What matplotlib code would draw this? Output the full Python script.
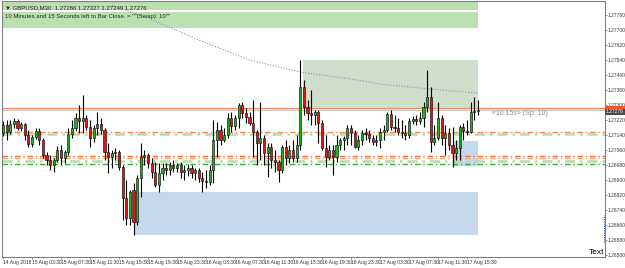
import numpy as np
import matplotlib
matplotlib.use("Agg")
import matplotlib.pyplot as plt
from matplotlib.patches import Rectangle

plt.rcParams["font.family"] = ["Liberation Sans", "DejaVu Sans"]

# GBPUSD M30 bars, 14 Aug 23:30 .. 17 Aug 17:00
opens = [1.27151, 1.27193, 1.27156, 1.27199, 1.27215, 1.27177, 1.27199, 1.27140, 1.27092, 1.27129,
         1.27161, 1.27113, 1.27033, 1.27007, 1.26980, 1.27007, 1.27060, 1.27017, 1.27049, 1.27145,
         1.27177, 1.27231, 1.27215, 1.27231, 1.27183, 1.27124, 1.27177, 1.27199, 1.27167, 1.27049,
         1.27023, 1.27044, 1.27049, 1.26969, 1.26804, 1.26697, 1.26847, 1.26676, 1.26911, 1.27023,
         1.27033, 1.26991, 1.26943, 1.26873, 1.26937, 1.26964, 1.26953, 1.26980, 1.26964, 1.26980,
         1.26943, 1.26953, 1.26964, 1.26937, 1.26953, 1.26911, 1.26895, 1.26889, 1.26953, 1.27113,
         1.27167, 1.27113, 1.27140, 1.27231, 1.27188, 1.27231, 1.27300, 1.27257, 1.27236, 1.27204,
         1.27156, 1.27097, 1.27124, 1.27044, 1.27076, 1.27007, 1.26996, 1.26953, 1.27076, 1.27017,
         1.27060, 1.27017, 1.27087, 1.27396, 1.27289, 1.27257, 1.27247, 1.27263, 1.27204, 1.27071,
         1.27023, 1.27060, 1.27023, 1.27087, 1.27113, 1.27124, 1.27177, 1.27151, 1.27076, 1.27113,
         1.27151, 1.27145, 1.27124, 1.27103, 1.27113, 1.27156, 1.27167, 1.27252, 1.27183, 1.27177,
         1.27156, 1.27151, 1.27140, 1.27215, 1.27225, 1.27215, 1.27231, 1.27289, 1.27343, 1.27103,
         1.27124, 1.27231, 1.27124, 1.27151, 1.27087, 1.27044, 1.27071, 1.27183, 1.27161, 1.27156,
         1.27263, 1.27266]
highs = [1.27215, 1.27220, 1.27220, 1.27231, 1.27225, 1.27209, 1.27204, 1.27167, 1.27140, 1.27177,
         1.27177, 1.27124, 1.27049, 1.27033, 1.27017, 1.27081, 1.27087, 1.27060, 1.27177, 1.27220,
         1.27257, 1.27300, 1.27353, 1.27247, 1.27220, 1.27193, 1.27263, 1.27231, 1.27177, 1.27097,
         1.27060, 1.27071, 1.27060, 1.26980, 1.26900, 1.26847, 1.26884, 1.26927, 1.27097, 1.27060,
         1.27044, 1.27017, 1.26996, 1.26991, 1.26991, 1.26991, 1.26996, 1.27007, 1.26991, 1.26996,
         1.26980, 1.26985, 1.26980, 1.26964, 1.26964, 1.26943, 1.26953, 1.26980, 1.27220, 1.27209,
         1.27193, 1.27177, 1.27257, 1.27263, 1.27247, 1.27311, 1.27316, 1.27284, 1.27263, 1.27327,
         1.27167, 1.27316, 1.27140, 1.27097, 1.27097, 1.27060, 1.27007, 1.27087, 1.27113, 1.27087,
         1.27113, 1.27140, 1.27540, 1.27433, 1.27327, 1.27380, 1.27273, 1.27273, 1.27220, 1.27140,
         1.27087, 1.27087, 1.27140, 1.27124, 1.27135, 1.27193, 1.27193, 1.27167, 1.27140, 1.27167,
         1.27177, 1.27167, 1.27140, 1.27140, 1.27177, 1.27193, 1.27263, 1.27273, 1.27247, 1.27231,
         1.27220, 1.27193, 1.27231, 1.27241, 1.27247, 1.27263, 1.27316, 1.27487, 1.27396, 1.27193,
         1.27316, 1.27247, 1.27193, 1.27177, 1.27183, 1.27113, 1.27193, 1.27204, 1.27220, 1.27316,
         1.27343, 1.27327]
lows = [1.27135, 1.27113, 1.27145, 1.27177, 1.27167, 1.27161, 1.27113, 1.27076, 1.27076, 1.27119,
        1.27087, 1.27017, 1.26980, 1.26953, 1.26943, 1.26996, 1.26980, 1.26991, 1.27033, 1.27124,
        1.27161, 1.27151, 1.27151, 1.27167, 1.27076, 1.27103, 1.27140, 1.27145, 1.27007, 1.26937,
        1.26964, 1.27007, 1.26953, 1.26687, 1.26660, 1.26660, 1.26607, 1.26660, 1.26809, 1.26980,
        1.26964, 1.26911, 1.26863, 1.26836, 1.26900, 1.26927, 1.26927, 1.26943, 1.26943, 1.26911,
        1.26900, 1.26921, 1.26911, 1.26900, 1.26889, 1.26836, 1.26857, 1.26873, 1.26884, 1.27023,
        1.27087, 1.27103, 1.27124, 1.27156, 1.27167, 1.27177, 1.27231, 1.27204, 1.27193, 1.27023,
        1.26980, 1.27007, 1.26980, 1.26916, 1.26964, 1.26943, 1.26889, 1.26937, 1.26980, 1.26991,
        1.26996, 1.26996, 1.27060, 1.27247, 1.27220, 1.27193, 1.27193, 1.27097, 1.27060, 1.26969,
        1.27007, 1.26927, 1.26996, 1.27060, 1.27060, 1.27087, 1.27087, 1.27071, 1.27060, 1.27087,
        1.27113, 1.27103, 1.27087, 1.27081, 1.27071, 1.27113, 1.27156, 1.27167, 1.27156, 1.27140,
        1.27124, 1.27113, 1.27124, 1.27199, 1.27193, 1.27199, 1.27183, 1.27263, 1.27049, 1.27087,
        1.27113, 1.27087, 1.27033, 1.27060, 1.26969, 1.27007, 1.27007, 1.27113, 1.27140, 1.27151,
        1.27220, 1.27249]
closes = [1.27193, 1.27156, 1.27199, 1.27215, 1.27177, 1.27199, 1.27140, 1.27092, 1.27129, 1.27161,
          1.27113, 1.27033, 1.27007, 1.26980, 1.27007, 1.27060, 1.27017, 1.27049, 1.27145, 1.27177,
          1.27231, 1.27215, 1.27231, 1.27183, 1.27124, 1.27177, 1.27199, 1.27167, 1.27049, 1.27023,
          1.27044, 1.27049, 1.26969, 1.26804, 1.26697, 1.26836, 1.26676, 1.26911, 1.27023, 1.27033,
          1.26991, 1.26943, 1.26873, 1.26937, 1.26964, 1.26953, 1.26980, 1.26964, 1.26980, 1.26943,
          1.26953, 1.26964, 1.26937, 1.26953, 1.26911, 1.26895, 1.26889, 1.26953, 1.27113, 1.27167,
          1.27113, 1.27140, 1.27231, 1.27188, 1.27231, 1.27300, 1.27257, 1.27236, 1.27204, 1.27156,
          1.27097, 1.27124, 1.27044, 1.27076, 1.27007, 1.26996, 1.26953, 1.27076, 1.27017, 1.27060,
          1.27017, 1.27087, 1.27396, 1.27289, 1.27257, 1.27247, 1.27263, 1.27204, 1.27071, 1.27023,
          1.27060, 1.27023, 1.27087, 1.27113, 1.27124, 1.27177, 1.27151, 1.27076, 1.27113, 1.27151,
          1.27145, 1.27124, 1.27103, 1.27113, 1.27156, 1.27167, 1.27252, 1.27183, 1.27177, 1.27156,
          1.27151, 1.27140, 1.27215, 1.27225, 1.27215, 1.27231, 1.27289, 1.27343, 1.27103, 1.27124,
          1.27231, 1.27124, 1.27151, 1.27087, 1.27044, 1.27071, 1.27183, 1.27161, 1.27156, 1.27263,
          1.27268, 1.27276]

# dotted average line (bar index, price)
ma_bars = [30, 40, 54, 68, 82, 96, 104, 118, 131]
ma_vals = [1.27833, 1.27764, 1.27647, 1.27540, 1.27476, 1.27439, 1.27412, 1.27385, 1.27364]

# zones: (bar_start, bar_end, price_low, price_high)
top_zone = (-1, 131, 1.27711, 1.27796)
top_zone2 = (-1, 131, 1.27807, 1.27860)
supply_zone = (82.8, 131, 1.27284, 1.27540)
demand_zone = (36, 131, 1.26607, 1.26836)
small_zone = (124.4, 131, 1.26975, 1.27108)

ask_price = 1.27286
bid_price = 1.27276
levels = [1.27158, 1.27145, 1.27028, 1.27017, 1.27003, 1.26985]
level_colors = ["#f4875a", "#b2dcaa", "#f0703c", "#f6a882", "#b2dcaa", "#3aa83a"]
level_widths = [1.0, 1.8, 1.0, 1.0, 1.8, 1.0]

yticks = [1.27780 - 0.0008 * k for k in range(17)]
xtick_bars = list(range(0, 132, 8))
xtick_labels = ["14 Aug 2018", "15 Aug 03:30", "15 Aug 07:30", "15 Aug 11:30", "15 Aug 15:30",
                "15 Aug 19:30", "15 Aug 23:30", "16 Aug 03:30", "16 Aug 07:30", "16 Aug 11:30",
                "16 Aug 15:30", "16 Aug 19:30", "16 Aug 23:30", "17 Aug 03:30", "17 Aug 07:30",
                "17 Aug 11:30", "17 Aug 15:30"]

o = np.array(opens)
h = np.array(highs)
l = np.array(lows)
c = np.array(closes)
x = np.arange(len(o))

fig = plt.figure(figsize=(6.25, 2.68), dpi=100)
ax = fig.add_axes([2 / 625, 1 - 257 / 268, 603 / 625, 256 / 268])
ax.set_xlim(-0.28, 166.07)
ax.set_ylim(1.26489, 1.27855)

for (x0, x1, y0, y1), col in [(top_zone, "#bcdfb2"), (top_zone2, "#bcdfb2"),
                              (supply_zone, "#cfdfca"), (demand_zone, "#c6d8ec"),
                              (small_zone, "#c6d8ec")]:
    ax.add_patch(Rectangle((x0, y0), x1 - x0, y1 - y0, facecolor=col, edgecolor="none", zorder=0))

ax.plot(ma_bars, ma_vals, color="#7a9cc0", lw=0.8, ls=(0, (1, 1.5)), zorder=1)

ax.axhline(ask_price, color="#f08a5d", lw=0.9, zorder=1)
ax.axhline(bid_price, color="#c8c8c8", lw=0.9, zorder=1)
for lv, col, lw in zip(levels, level_colors, level_widths):
    ax.axhline(lv, color=col, lw=lw, ls=(0, (4, 2, 1, 2)), zorder=1)

up = c >= o
ax.vlines(x, l, h, color="black", lw=0.8, zorder=2)
ax.bar(x[up], (c - o)[up], bottom=o[up], width=0.6, color="#1fb21f",
       edgecolor="black", lw=0.4, zorder=3)
ax.bar(x[~up], (c - o)[~up], bottom=o[~up], width=0.6, color="#e41414",
       edgecolor="black", lw=0.4, zorder=3)

ax.yaxis.tick_right()
ax.set_yticks(yticks)
ax.set_yticklabels([f"{v:.5f}" for v in yticks], fontsize=3.5, color="#333333")
ax.set_xticks(xtick_bars)
ax.set_xticklabels(xtick_labels, fontsize=3.6, color="#333333", ha="left")
ax.tick_params(axis="both", length=1.5, width=0.5, pad=0.6, colors="#666666", labelcolor="#333333")
for s in ax.spines.values():
    s.set_color("#808080")
    s.set_linewidth(0.8)

ax.text(0.005, 0.985, "\u25bc GBPUSD,M30  1.27266 1.27327 1.27249 1.27276", transform=ax.transAxes,
        fontsize=4.3, va="top", ha="left", color="#222222")
ax.text(0.005, 0.948, "10 Minutes and 15 Seconds left to Bar Close. = \"\"(Swap): 10\"\"",
        transform=ax.transAxes, fontsize=4.3, va="top", ha="left", color="#222222")
ax.text(135, bid_price - 0.00005, "\u00ab10 15s\u00bb (Sp: 10)", fontsize=5, color="#909090",
        va="top", ha="left")

# price boxes on the right scale
fig.patches.append(Rectangle((605 / 625, 1 - 108.5 / 268), 20 / 625, 2.5 / 268,
                             transform=fig.transFigure, facecolor="#f05a28", edgecolor="none"))
fig.patches.append(Rectangle((605 / 625, 1 - 114.5 / 268), 20 / 625, 6 / 268,
                             transform=fig.transFigure, facecolor="#4a4a4a", edgecolor="none"))
fig.text(606 / 625, 1 - 111.5 / 268, "1.27276", fontsize=3.5, color="white", va="center", ha="left")

fig.text(604 / 625, 1 - 253 / 268, "Text", fontsize=6, color="black", va="center", ha="right")
ax.plot([165.8, 165.8], [1.26570, 1.26715], color="#1f5aa0", lw=0.8, ls=(0, (1, 1)), zorder=4)

fig.savefig("out.png", dpi=100, facecolor="white")
